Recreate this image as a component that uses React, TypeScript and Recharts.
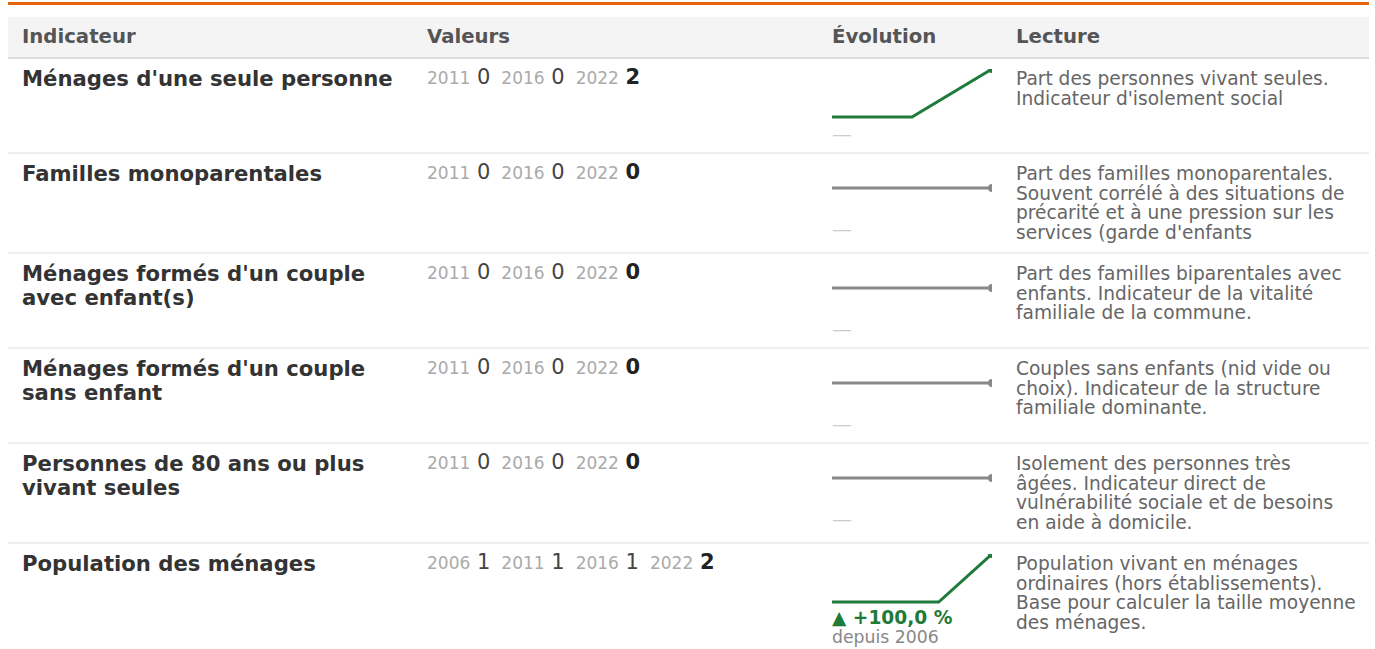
import React from "react";
import { Line, LineChart, XAxis, YAxis } from "recharts";

const indicateurs = [
  "Ménages d'une seule personne",
  "Familles monoparentales",
  "Ménages formés d'un couple avec enfant(s)",
  "Ménages formés d'un couple sans enfant",
  "Personnes de 80 ans ou plus vivant seules",
  "Population des ménages",
];

const anneesCourtes = ["2011", "2016", "2022"];
const anneesLongues = ["2006", "2011", "2016", "2022"];

const valeursSeules = [0, 0, 2];
const valeursMonoparentales = [0, 0, 0];
const valeursCoupleAvecEnfants = [0, 0, 0];
const valeursCoupleSansEnfant = [0, 0, 0];
const valeurs80Seules = [0, 0, 0];
const valeursPopulation = [1, 1, 1, 2];

const lectures = [
  "Part des personnes vivant seules. Indicateur d'isolement social",
  "Part des familles monoparentales. Souvent corrélé à des situations de précarité et à une pression sur les services (garde d'enfants",
  "Part des familles biparentales avec enfants. Indicateur de la vitalité familiale de la commune.",
  "Couples sans enfants (nid vide ou choix). Indicateur de la structure familiale dominante.",
  "Isolement des personnes très âgées. Indicateur direct de vulnérabilité sociale et de besoins en aide à domicile.",
  "Population vivant en ménages ordinaires (hors établissements). Base pour calculer la taille moyenne des ménages.",
];

const rows = [
  { years: anneesCourtes, values: valeursSeules },
  { years: anneesCourtes, values: valeursMonoparentales },
  { years: anneesCourtes, values: valeursCoupleAvecEnfants },
  { years: anneesCourtes, values: valeursCoupleSansEnfant },
  { years: anneesCourtes, values: valeurs80Seules },
  { years: anneesLongues, values: valeursPopulation },
];

const GREEN = "#1e7b3a";
const GRAY = "#888888";
const FONT = "'DejaVu Sans', sans-serif";

function Sparkline({ years, values }: { years: string[]; values: number[] }) {
  const data = years.map((y, i) => ({ year: y, value: values[i] }));
  const min = Math.min(...values);
  const max = Math.max(...values);
  const domain = min === max ? [min - 1, max + 1] : [min, max];
  const color = values[values.length - 1] > values[0] ? GREEN : GRAY;
  const last = data.length - 1;
  return (
    <LineChart
      width={160}
      height={50}
      data={data}
      margin={{ top: 0, right: 0, left: 0, bottom: 2 }}
    >
      <XAxis dataKey="year" hide />
      <YAxis hide domain={domain} />
      <Line
        type="linear"
        dataKey="value"
        stroke={color}
        strokeWidth={3}
        isAnimationActive={false}
        dot={(p: any) =>
          p.index === last ? (
            <circle key={p.index} cx={p.cx} cy={p.cy} r={4} fill={color} />
          ) : (
            <g key={p.index} />
          )
        }
        activeDot={false}
      />
    </LineChart>
  );
}

function Evolution({ years, values }: { years: string[]; values: number[] }) {
  const first = values[0];
  const last = values[values.length - 1];
  if (first === 0) {
    return (
      <div style={{ marginTop: 7, color: "#cccccc", fontSize: 20, lineHeight: "16px" }}>—</div>
    );
  }
  const pct = ((last - first) / first) * 100;
  const txt = (pct >= 0 ? "+" : "") + pct.toFixed(1).replace(".", ",") + " %";
  return (
    <div style={{ marginTop: 4 }}>
      <div style={{ color: GREEN, fontWeight: "bold", fontSize: 18.6, lineHeight: "20px" }}>
        {pct >= 0 ? "▲" : "▼"} {txt}
      </div>
      <div style={{ color: "#888", fontSize: 17.3, lineHeight: "19px" }}>depuis {years[0]}</div>
    </div>
  );
}

const th: React.CSSProperties = {
  textAlign: "left",
  padding: "10px 14px",
  fontSize: 19.7,
  fontWeight: "bold",
  color: "#555",
  lineHeight: "20px",
  borderBottom: "2px solid #dddddd",
};

const td: React.CSSProperties = {
  verticalAlign: "top",
  padding: "10px 14px",
  borderBottom: "2px solid #eeeeee",
};

export default function App() {
  return (
    <div
      style={{
        position: "absolute",
        left: 8,
        top: 2,
        width: 1361,
        fontFamily: FONT,
        borderTop: "3px solid #e8650f",
        paddingTop: 12,
      }}
    >
      <table
        style={{
          width: 1361,
          borderCollapse: "collapse",
          tableLayout: "fixed",
        }}
      >
        <colgroup>
          <col style={{ width: 405 }} />
          <col style={{ width: 405 }} />
          <col style={{ width: 184 }} />
          <col style={{ width: 367 }} />
        </colgroup>
        <thead>
          <tr style={{ background: "#f4f4f4" }}>
            <th style={th}>Indicateur</th>
            <th style={th}>Valeurs</th>
            <th style={th}>Évolution</th>
            <th style={th}>Lecture</th>
          </tr>
        </thead>
        <tbody>
          {rows.map((r, i) => (
            <tr key={i}>
              <td
                style={{
                  ...td,
                  fontWeight: "bold",
                  fontSize: 21.2,
                  color: "#333",
                  lineHeight: "24px",
                  paddingTop: 8,
                  paddingRight: 12,
                }}
              >
                {indicateurs[i]}
              </td>
              <td style={{ ...td, paddingTop: 8, fontSize: 21, lineHeight: "21px" }}>
                {r.years.map((y, j) => (
                  <span key={y} style={{ marginRight: 11, whiteSpace: "nowrap" }}>
                    <span style={{ color: "#aaaaaa", fontSize: 17 }}>{y}</span>{" "}
                    <span
                      style={{
                        color: j === r.years.length - 1 ? "#222" : "#444",
                        fontWeight: j === r.years.length - 1 ? "bold" : "normal",
                        fontSize: 21,
                      }}
                    >
                      {r.values[j]}
                    </span>
                  </span>
                ))}
              </td>
              <td style={td}>
                <Sparkline years={r.years} values={r.values} />
                <Evolution years={r.years} values={r.values} />
              </td>
              <td style={{ ...td, fontSize: 18.6, color: "#666", lineHeight: "19.5px", paddingRight: 13 }}>
                {lectures[i]}
              </td>
            </tr>
          ))}
        </tbody>
      </table>
    </div>
  );
}
